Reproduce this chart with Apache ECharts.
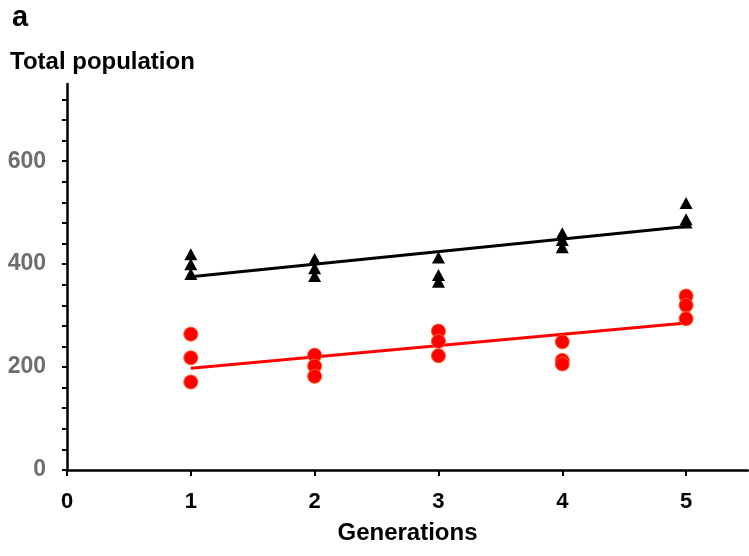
<!DOCTYPE html>
<html>
<head>
<meta charset="utf-8">
<script src="https://cdn.jsdelivr.net/npm/echarts@6/dist/echarts.min.js"></script>
<style>
  html, body { margin: 0; padding: 0; background: #fff; }
  #chart { width: 749px; height: 556px; }
</style>
</head>
<body>
<div id="chart"></div>
<script>
// Generations sampled (x) and replicate population counts at each generation
const generations = [1, 2, 3, 4, 5];
const blackGroup = [
  [419, 400, 381],
  [410, 392, 377],
  [413, 379, 366],
  [460, 447, 433],
  [519, 487, 481]
];
const redGroup = [
  [264, 218, 171],
  [223, 202, 182],
  [270, 250, 222],
  [249, 213, 206],
  [338, 320, 294]
];

// Axis tick positions and labels
const xTicks = [0, 1, 2, 3, 4, 5];
const yMinorTicks = [0, 40, 80, 120, 160, 200, 240, 280, 320, 360, 400, 440, 480, 520, 560, 600, 640, 680, 720];
const yLabels = [0, 200, 400, 600];

// Flatten replicate values into [x, y] points
function toPoints(groups) {
  const pts = [];
  groups.forEach((vals, i) => vals.forEach(v => pts.push([generations[i], v])));
  return pts;
}

// Ordinary least-squares line through the points, evaluated at first and last generation
function fitLine(points) {
  const n = points.length;
  let sx = 0, sy = 0, sxx = 0, sxy = 0;
  points.forEach(([x, y]) => { sx += x; sy += y; sxx += x * x; sxy += x * y; });
  const slope = (n * sxy - sx * sy) / (n * sxx - sx * sx);
  const icpt = (sy - slope * sx) / n;
  const x0 = generations[0], x1 = generations[generations.length - 1];
  return [[x0, icpt + slope * x0], [x1, icpt + slope * x1]];
}

const blackPts = toPoints(blackGroup);
const redPts = toPoints(redGroup);

const chart = echarts.init(document.getElementById('chart'), null, { renderer: 'canvas' });
const font = 'Liberation Sans, Arial, sans-serif';

chart.setOption({
  animation: false,
  backgroundColor: '#ffffff',
  title: [
    { text: 'a', left: 12, top: 3, padding: 0, textStyle: { fontFamily: font, fontWeight: 'bold', fontSize: 29, color: '#000' } },
    { text: 'Total population', left: 10, top: 50, padding: 0, textStyle: { fontFamily: font, fontWeight: 'bold', fontSize: 24, color: '#000' } }
  ],
  grid: { left: 67, right: 1, top: 84, bottom: 86 },
  xAxis: {
    type: 'value',
    min: 0,
    max: 5.5,
    name: 'Generations',
    nameLocation: 'middle',
    nameGap: 51,
    nameTextStyle: { fontFamily: font, fontWeight: 'bold', fontSize: 24, color: '#000' },
    axisLine: { show: true, onZero: false, lineStyle: { color: '#000', width: 2.5 } },
    axisTick: { show: true, inside: false, length: 6, customValues: xTicks, lineStyle: { color: '#000', width: 2 } },
    axisLabel: { customValues: xTicks, margin: 21, fontFamily: font, fontWeight: 'bold', fontSize: 22, color: '#000' },
    splitLine: { show: false }
  },
  yAxis: {
    type: 'value',
    min: 0,
    max: 750,
    axisLine: { show: true, onZero: false, lineStyle: { color: '#000', width: 2.5 } },
    axisTick: { show: true, inside: false, length: 5, customValues: yMinorTicks, lineStyle: { color: '#000', width: 2 } },
    axisLabel: { customValues: yLabels, margin: 21, fontFamily: font, fontWeight: 'bold', fontSize: 23, color: '#6e6e6e' },
    splitLine: { show: false }
  },
  series: [
    {
      type: 'line', data: fitLine(blackPts), symbol: 'none', z: 2,
      lineStyle: { color: '#000', width: 3 }
    },
    {
      type: 'line', data: fitLine(redPts), symbol: 'none', z: 2,
      lineStyle: { color: '#ff0000', width: 3 }
    },
    {
      type: 'scatter', data: blackPts, symbol: 'triangle', symbolSize: [13, 12], z: 3,
      itemStyle: { color: '#000', opacity: 1 }
    },
    {
      type: 'scatter', data: redPts, symbol: 'circle', symbolSize: 14, z: 3,
      itemStyle: { color: '#ff0000', borderColor: '#ff5a1e', borderWidth: 1, opacity: 1 }
    }
  ]
});
</script>
</body>
</html>
